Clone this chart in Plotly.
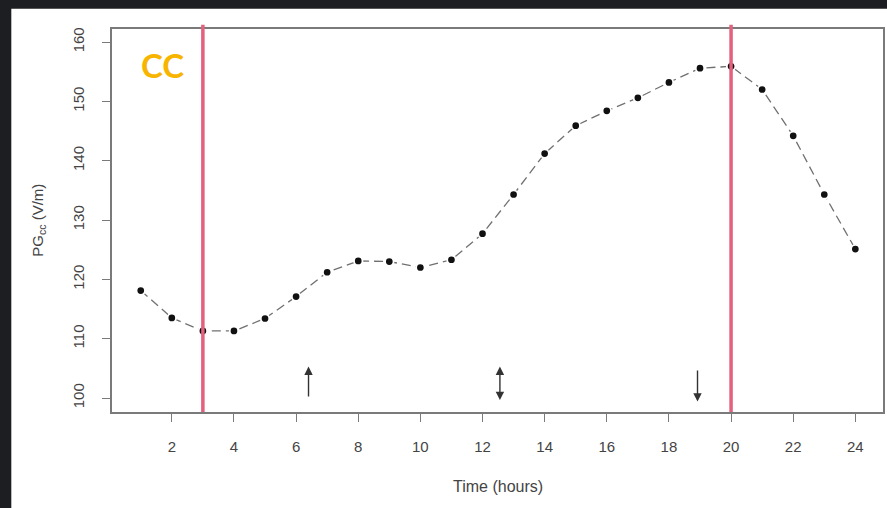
import plotly.graph_objects as go

# Hourly mean potential gradient (V/m)
hours = list(range(1, 25))
pg_cc = [118.1, 113.5, 111.3, 111.3, 113.4, 117.1, 121.2, 123.1, 123.0, 122.0,
         123.3, 127.7, 134.3, 141.2, 145.9, 148.4, 150.6, 153.2, 155.6, 155.9,
         152.0, 144.2, 134.3, 125.1]

# Vertical markers (hours)
marker_hours = [3, 20]

# Arrow annotations: hour, tail value, head value, style
arrow_hours = [6.4, 12.56, 18.92]
arrow_tail = [100.0, 99.4, 104.9]
arrow_head = [105.3, 105.3, 99.4]
arrow_sides = ["end", "end+start", "end"]

x_ticks = list(range(2, 25, 2))
y_ticks = [100, 110, 120, 130, 140, 150, 160]

X_RANGE = [0.075, 24.89]
Y_RANGE = [97.64, 162.2]

AXIS_GRAY = "#7a7a7a"
TEXT_GRAY = "#444444"
PINK = "#e4607f"

fig = go.Figure()

fig.add_trace(go.Scatter(
    x=hours, y=pg_cc, mode="lines+markers",
    line=dict(color="#707070", width=1.3, dash="9px,5px"),
    marker=dict(color="#111111", size=8.5, line=dict(color="white", width=1.8)),
    showlegend=False, hoverinfo="x+y",
))

shapes = []
# dark frame around the white panel
shapes.append(dict(type="rect", xref="paper", yref="paper", x0=-0.2, x1=1.05,
                   y0=1.053, y1=1.2, fillcolor="#1d1e21", line=dict(width=0), layer="below"))
shapes.append(dict(type="rect", xref="paper", yref="paper", x0=-0.2, x1=-0.1306,
                   y0=-0.3, y1=1.2, fillcolor="#1d1e21", line=dict(width=0), layer="below"))
for h in marker_hours:
    shapes.append(dict(type="line", xref="x", yref="paper", x0=h, x1=h, y0=0, y1=1.011,
                       line=dict(color=PINK, width=3.5), layer="above"))
fig.update_layout(shapes=shapes)

annotations = []
for h, t, hd, side in zip(arrow_hours, arrow_tail, arrow_head, arrow_sides):
    annotations.append(dict(
        x=h, y=hd, ax=h, ay=t, xref="x", yref="y", axref="x", ayref="y",
        text="", showarrow=True, arrowhead=2, arrowsize=1.2, arrowwidth=1.4,
        arrowcolor="#333333", arrowside=side, standoff=0, startstandoff=0,
    ))

annotations.append(dict(
    text="CC", xref="paper", yref="paper", x=0.066, y=0.905,
    xanchor="center", yanchor="middle", showarrow=False,
    font=dict(family="Lato", size=33, color="#f7b500", weight="bold"),
))
annotations.append(dict(
    text="PG<sub>cc</sub> (V/m)", xref="paper", yref="paper", x=-0.0957, y=0.5,
    xanchor="center", yanchor="middle", textangle=-90, showarrow=False,
    font=dict(family="Liberation Sans", size=15, color=TEXT_GRAY),
))
annotations.append(dict(
    text="Time (hours)", xref="paper", yref="paper", x=0.5, y=-0.195,
    xanchor="center", yanchor="middle", showarrow=False,
    font=dict(family="Liberation Sans", size=16, color=TEXT_GRAY),
))
fig.update_layout(annotations=annotations)

axis_common = dict(
    showgrid=False, zeroline=False, showline=True, mirror=True,
    linecolor=AXIS_GRAY, linewidth=1.6, ticks="outside", ticklen=8,
    tickcolor=AXIS_GRAY, tickwidth=1.4,
    tickfont=dict(family="Liberation Sans", size=15, color=TEXT_GRAY),
)
fig.update_xaxes(range=X_RANGE, tickvals=x_ticks, ticklabelstandoff=12, **axis_common)
fig.update_yaxes(range=Y_RANGE, tickvals=y_ticks, tickangle=-90, ticklabelstandoff=12, **axis_common)

fig.update_layout(
    width=887, height=508,
    margin=dict(l=112, r=2, t=29, b=96),
    paper_bgcolor="white", plot_bgcolor="white",
)

fig.write_html("out.html")
